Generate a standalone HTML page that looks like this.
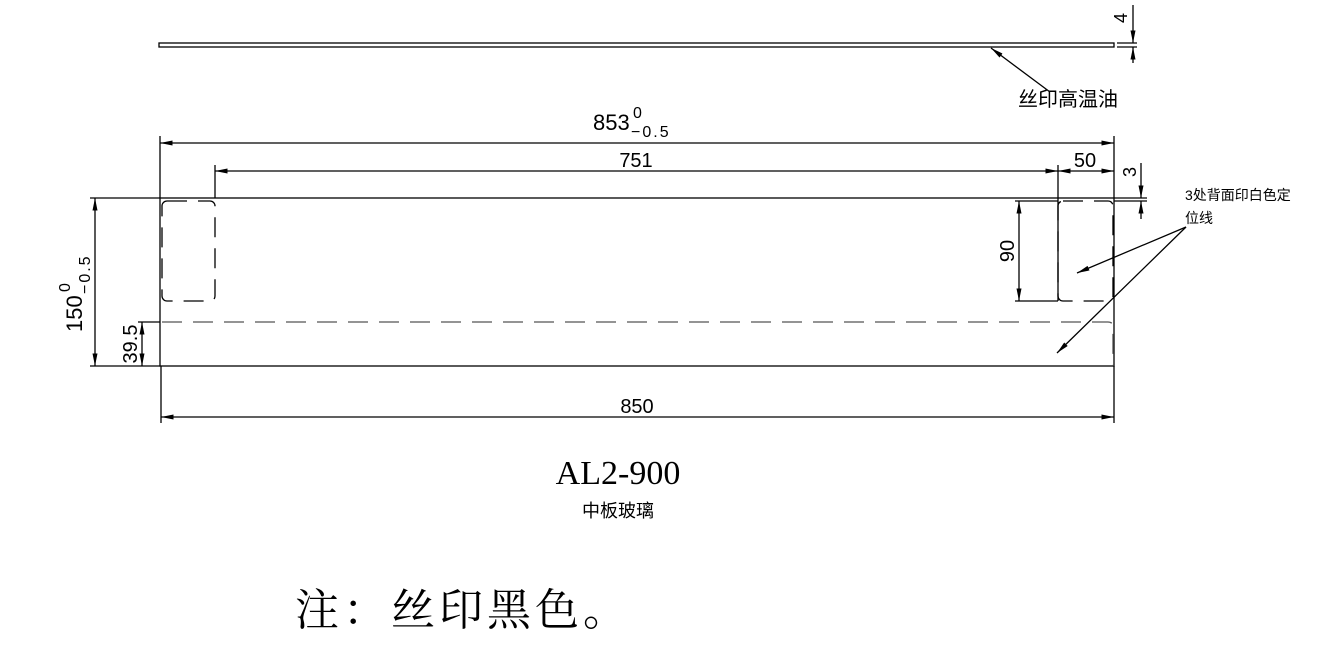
<!DOCTYPE html>
<html><head><meta charset="utf-8"><style>
html,body{margin:0;padding:0;background:#fff;width:1336px;height:652px;overflow:hidden}
svg text{font-family:"Liberation Sans","Noto Sans CJK SC",sans-serif;fill:#000}
</style></head><body>
<svg width="1336" height="652" viewBox="0 0 1336 652" xmlns="http://www.w3.org/2000/svg">
<defs>
<marker id="a" viewBox="0 0 10 4" refX="10" refY="2" markerWidth="14" markerHeight="5" markerUnits="userSpaceOnUse" orient="auto-start-reverse"><path d="M0,0L10,2L0,4z" fill="#000"/></marker>
</defs>
<g stroke="#000" stroke-width="1.3" fill="none">
<rect x="159" y="43" width="955" height="4"/>
<line x1="1117" y1="43" x2="1137" y2="43"/><line x1="1117" y1="47" x2="1137" y2="47"/>
<line x1="1133" y1="5" x2="1133" y2="43" marker-end="url(#a)"/>
<line x1="1133" y1="63" x2="1133" y2="47" marker-end="url(#a)"/>
<line x1="1050" y1="92" x2="991" y2="48" marker-end="url(#a)"/>
<rect x="160" y="198" width="954" height="168"/>
<line x1="160" y1="136" x2="160" y2="198"/><line x1="1114" y1="136" x2="1114" y2="198"/>
<line x1="160" y1="143" x2="1114" y2="143" marker-start="url(#a)" marker-end="url(#a)"/>
<line x1="215" y1="165" x2="215" y2="198"/><line x1="1058" y1="165" x2="1058" y2="301"/>
<line x1="215" y1="171" x2="1058" y2="171" marker-start="url(#a)" marker-end="url(#a)"/>
<line x1="1058" y1="171" x2="1114" y2="171" marker-start="url(#a)" marker-end="url(#a)"/>
<line x1="1114" y1="198" x2="1147" y2="198"/><line x1="1114" y1="201" x2="1147" y2="201"/>
<line x1="1141" y1="163" x2="1141" y2="198" marker-end="url(#a)"/>
<line x1="1141" y1="219" x2="1141" y2="201" marker-end="url(#a)"/>
<line x1="90" y1="198" x2="160" y2="198"/><line x1="90" y1="366" x2="160" y2="366"/>
<line x1="95" y1="198" x2="95" y2="366" marker-start="url(#a)" marker-end="url(#a)"/>
<line x1="138" y1="322" x2="160" y2="322"/>
<line x1="142" y1="322" x2="142" y2="366" marker-start="url(#a)" marker-end="url(#a)"/>
<line x1="161" y1="366" x2="161" y2="423"/><line x1="1114" y1="366" x2="1114" y2="423"/>
<line x1="161" y1="417" x2="1114" y2="417" marker-start="url(#a)" marker-end="url(#a)"/>
<line x1="1015" y1="201" x2="1058" y2="201"/><line x1="1015" y1="301" x2="1058" y2="301"/>
<line x1="1019" y1="201" x2="1019" y2="301" marker-start="url(#a)" marker-end="url(#a)"/>
<line x1="1186" y1="227" x2="1077" y2="273" marker-end="url(#a)"/>
<line x1="1186" y1="227" x2="1057" y2="353" marker-end="url(#a)"/>
</g>
<g stroke="#000" stroke-width="1.3" fill="none" stroke-dasharray="20,11">
<rect x="162" y="201" width="53" height="100" rx="5"/>
<rect x="1058" y="201" width="55" height="100" rx="5"/>
</g>
<path d="M162,322 H1108 Q1113,322 1113,327 V366" stroke="#555" stroke-width="1.3" fill="none" stroke-dasharray="20,11"/>
<text x="1018" y="106" font-size="20">丝印高温油</text>
<text x="1127" y="18" font-size="18" transform="rotate(-90 1127 18)" text-anchor="middle">4</text>
<text x="593" y="130" font-size="22">853</text>
<text x="633" y="118" font-size="16">0</text>
<text x="631" y="137" font-size="16" letter-spacing="2">−0.5</text>
<text x="636" y="167" font-size="20" text-anchor="middle">751</text>
<text x="1085" y="167" font-size="20" text-anchor="middle">50</text>
<text x="1136" y="172" font-size="18" transform="rotate(-90 1136 172)" text-anchor="middle">3</text>
<text x="637" y="413" font-size="20" text-anchor="middle">850</text>
<text x="1014" y="251" font-size="20" transform="rotate(-90 1014 251)" text-anchor="middle">90</text>
<text x="137" y="344" font-size="20" transform="rotate(-90 137 344)" text-anchor="middle">39.5</text>
<g transform="translate(88,332) rotate(-90)">
<text x="0" y="-6" font-size="22">150</text>
<text x="40" y="-18" font-size="16">0</text>
<text x="38" y="2" font-size="16" letter-spacing="2">−0.5</text>
</g>
<text x="1185" y="200" font-size="14">3处背面印白色定</text>
<text x="1185" y="223" font-size="14">位线</text>
<text x="618" y="484" font-size="34" text-anchor="middle" style="font-family:'Liberation Serif',serif">AL2-900</text>
<text x="618" y="517" font-size="18" text-anchor="middle">中板玻璃</text>
<text x="295" y="625" font-size="44" letter-spacing="4" style="font-family:'Liberation Serif','Noto Serif CJK SC',serif">注：丝印黑色。</text>
</svg>
</body></html>
